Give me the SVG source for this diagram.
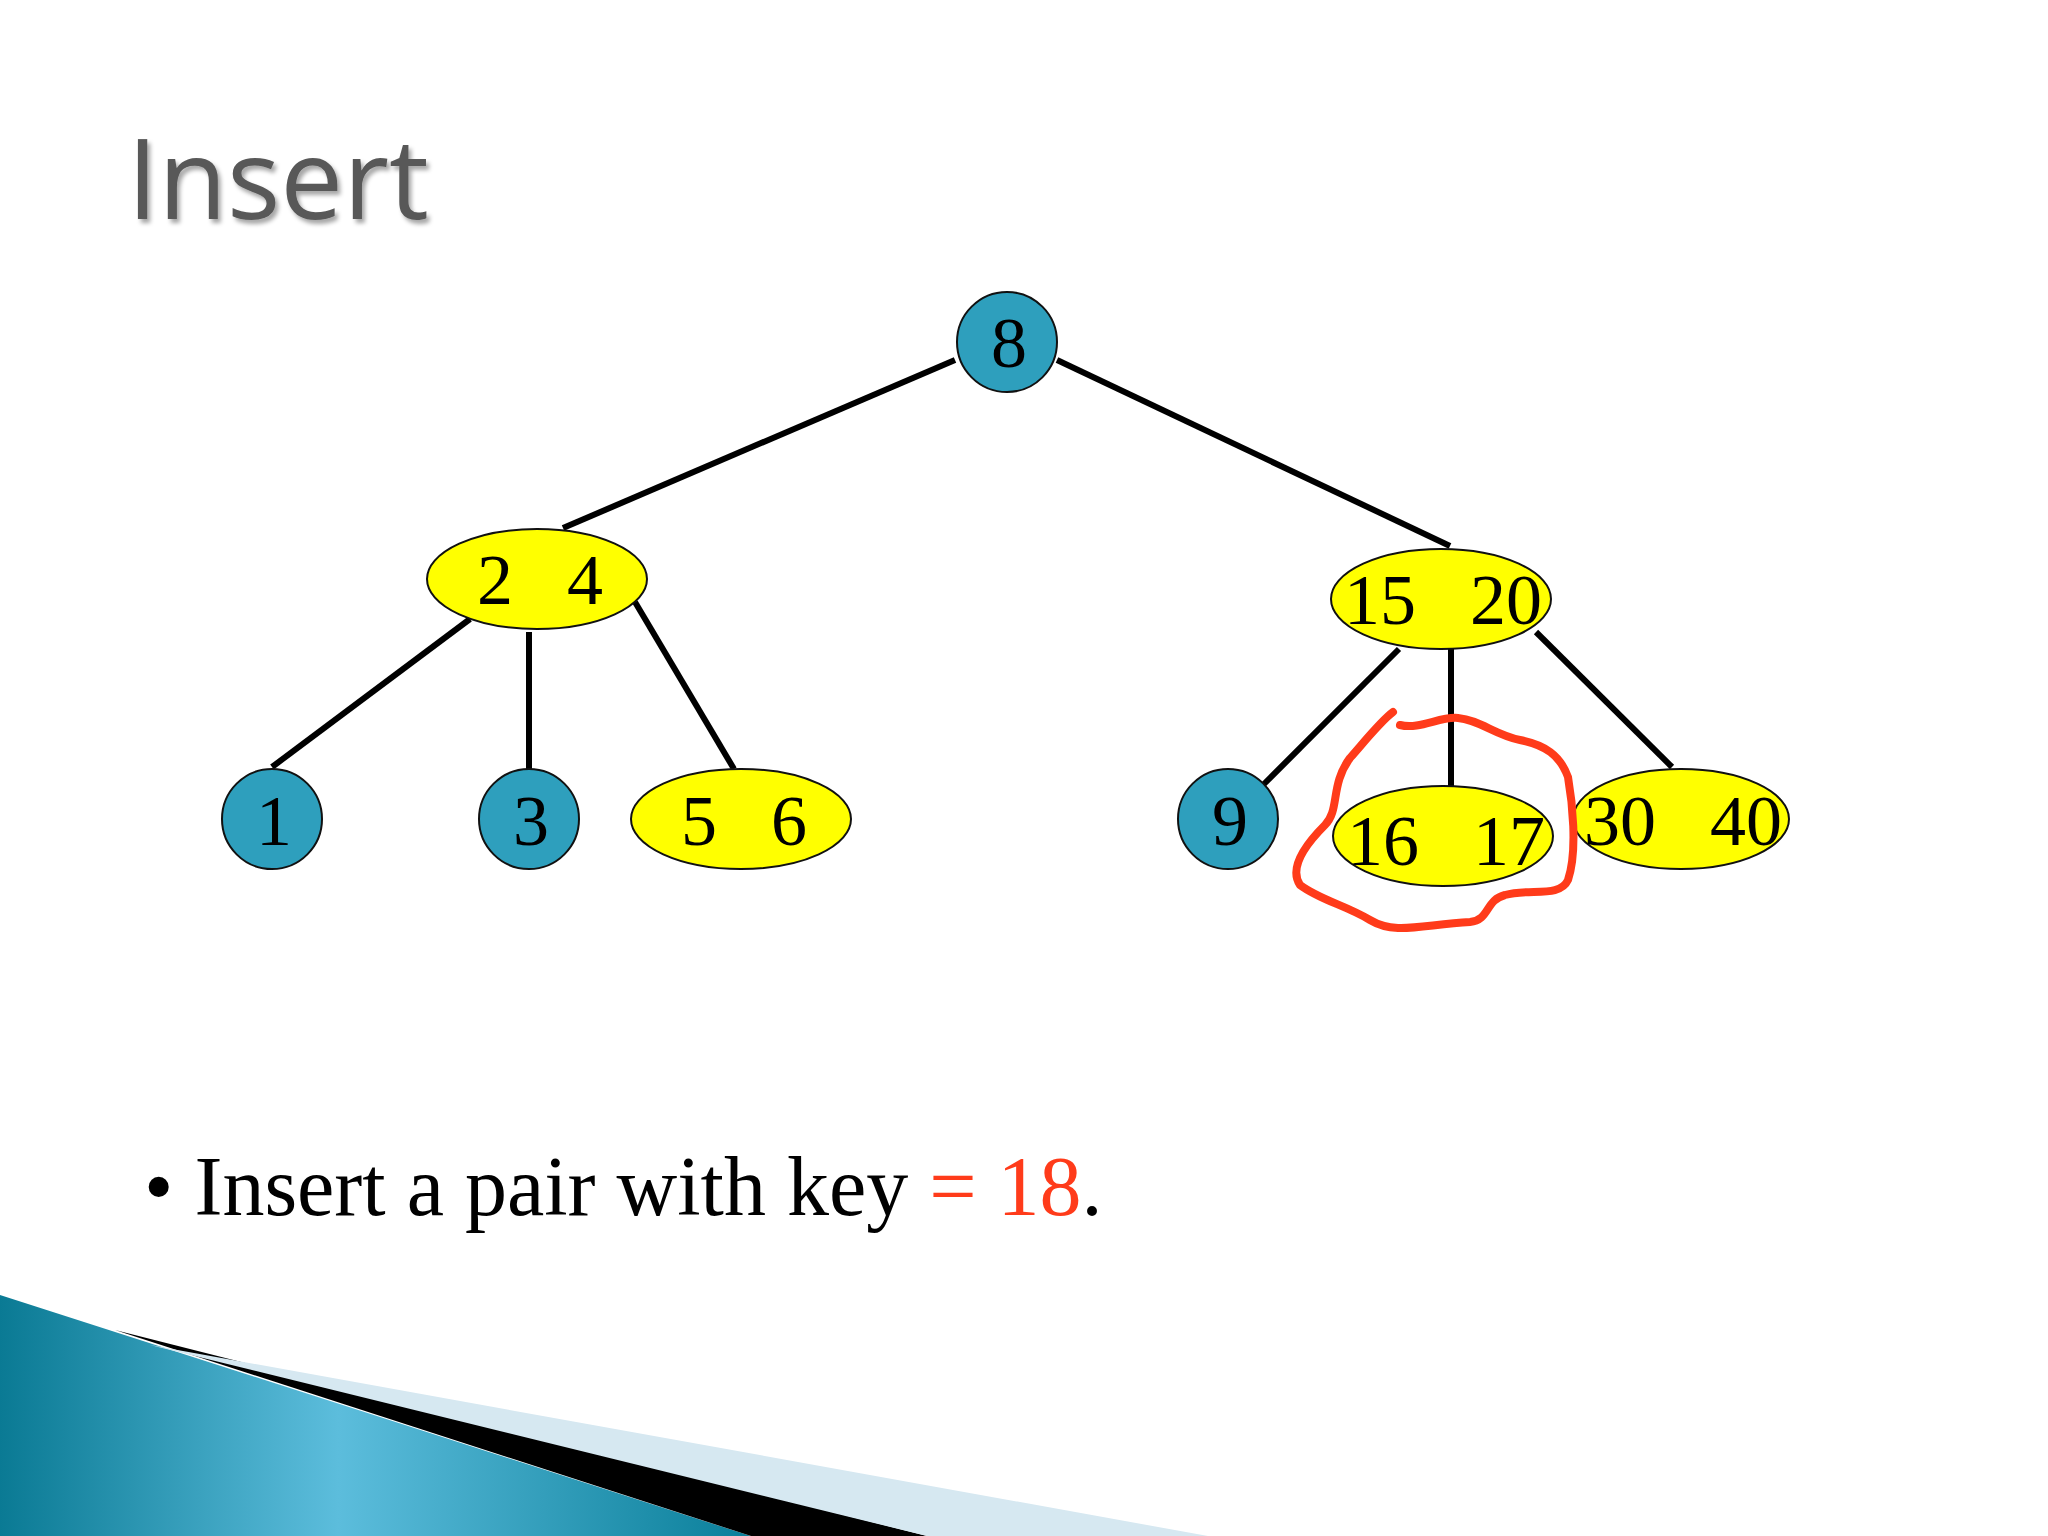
<svg xmlns="http://www.w3.org/2000/svg" width="2048" height="1536" viewBox="0 0 2048 1536">
<defs>
<linearGradient id="tg" x1="0" y1="0" x2="1" y2="0"><stop offset="0" stop-color="#0a7a94"/><stop offset="0.45" stop-color="#5cbddc"/><stop offset="1" stop-color="#0a7f9a"/></linearGradient>
<filter id="sh"><feDropShadow dx="3" dy="4" stdDeviation="2" flood-color="#000" flood-opacity="0.35"/></filter>
</defs>
<style>
.c{fill:#2e9fbd;stroke:#111;stroke-width:2}
.y{fill:#ffff00;stroke:#111;stroke-width:2}
.t{font-family:"Liberation Serif",serif;font-size:72px;fill:#000;text-anchor:middle}
.e{stroke:#000;stroke-width:6}
</style>
<rect width="2048" height="1536" fill="#fff"/>
<text x="127" y="219" font-family="Open Sans,Lato,sans-serif" font-size="112" fill="#595959" filter="url(#sh)">Insert</text>
<g id="connectors">
<line class="e" x1="955" y1="360" x2="563" y2="528"/>
<line class="e" x1="1057" y1="360" x2="1450" y2="546"/>
<line class="e" x1="470" y1="619" x2="272" y2="767"/>
<line class="e" x1="529" y1="632" x2="529" y2="771"/>
<line class="e" x1="635" y1="602" x2="734" y2="769"/>
<line class="e" x1="1399" y1="649" x2="1264" y2="784"/>
<line class="e" x1="1451" y1="649" x2="1451" y2="786"/>
<line class="e" x1="1536" y1="632" x2="1672" y2="767"/>
</g>
<g id="n8"><circle class="c" cx="1007" cy="342" r="50"/><text class="t" x="1009" y="367">8</text></g>
<g id="n24"><ellipse class="y" cx="537" cy="579" rx="110" ry="50"/><text class="t" x="540" y="604" xml:space="preserve">2   4</text></g>
<g id="n1520"><ellipse class="y" cx="1441" cy="599" rx="110" ry="50"/><text class="t" x="1443" y="624" xml:space="preserve">15   20</text></g>
<g id="n1"><circle class="c" cx="272" cy="819" r="50"/><text class="t" x="274" y="845">1</text></g>
<g id="n3"><circle class="c" cx="529" cy="819" r="50"/><text class="t" x="531" y="845">3</text></g>
<g id="n56"><ellipse class="y" cx="741" cy="819" rx="110" ry="50"/><text class="t" x="744" y="845" xml:space="preserve">5   6</text></g>
<g id="n9"><circle class="c" cx="1228" cy="819" r="50"/><text class="t" x="1230" y="845">9</text></g>
<g id="n1617"><ellipse class="y" cx="1443" cy="836" rx="110" ry="50"/><text class="t" x="1446" y="865" xml:space="preserve">16   17</text></g>
<g id="n3040"><ellipse class="y" cx="1681" cy="819" rx="108" ry="50"/><text class="t" x="1683" y="845" xml:space="preserve">30   40</text></g>
<path d="M1393,712 C1382,720 1370,735 1350,758 C1330,785 1340,810 1325,825 C1300,850 1290,870 1300,885 C1320,900 1345,905 1370,920 C1395,935 1420,925 1470,922 C1490,920 1485,900 1505,895 C1530,888 1560,898 1568,880 C1578,850 1572,800 1568,777 C1560,755 1545,745 1520,740 C1495,735 1480,720 1458,718 C1440,716 1420,730 1400,725" fill="none" stroke="#ff3b1a" stroke-width="8" stroke-linecap="round"/>
<text x="144" y="1215" font-family="Liberation Serif,serif" font-size="84" fill="#000">• Insert a pair with key <tspan fill="#ff3b1a">= 18</tspan>.</text>
<polygon points="0,1295 140,1340 751,1536 0,1536" fill="url(#tg)"/>
<polygon points="115,1330 927,1536 751,1536" fill="#000"/>
<polygon points="150,1345 1208,1536 927,1536" fill="#d6e8f1"/>
</svg>
